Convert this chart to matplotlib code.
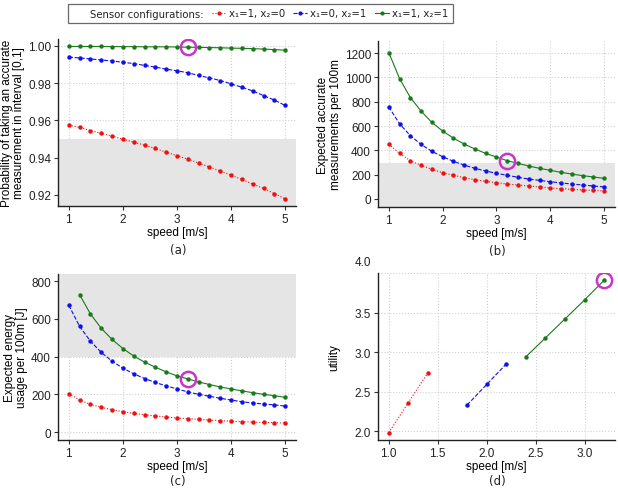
import numpy as np
import matplotlib
matplotlib.use("Agg")
import matplotlib.pyplot as plt
from matplotlib.patches import Rectangle
from matplotlib.lines import Line2D
import matplotlib.transforms as mtransforms

plt.rcParams['font.family'] = ['Liberation Sans', 'DejaVu Sans']

speed = np.round(np.arange(1.0, 5.01, 0.2), 1)

# (a) probability of accurate measurement
prob_red = [0.9574, 0.9563, 0.9545, 0.9530, 0.9516, 0.9498, 0.9483, 0.9467, 0.9449, 0.9429, 0.9411,
            0.9391, 0.9371, 0.9350, 0.9328, 0.9305, 0.9283, 0.9258, 0.9234, 0.9207, 0.9178]
prob_blue = [0.9940, 0.9935, 0.9930, 0.9924, 0.9919, 0.9912, 0.9905, 0.9895, 0.9886, 0.9875, 0.9866,
             0.9856, 0.9841, 0.9828, 0.9814, 0.9796, 0.9778, 0.9758, 0.9733, 0.9709, 0.9680]
prob_green = [0.9997, 0.9997, 0.9997, 0.9997, 0.9996, 0.9996, 0.9996, 0.9995, 0.9995, 0.9995, 0.9994,
              0.9993, 0.9992, 0.9991, 0.9990, 0.9988, 0.9987, 0.9985, 0.9983, 0.9980, 0.9977]

# (b) expected accurate measurements per 100m
meas_red = [452, 375, 315, 277, 244, 216, 195, 175, 159, 145, 134,
            123, 115, 107, 99, 90, 85, 79, 74, 71, 66]
meas_blue = [758, 619, 521, 449, 392, 348, 310, 279, 252, 230, 211,
             195, 178, 164, 153, 142, 132, 123, 115, 107, 99]
meas_green = [1205, 991, 835, 723, 630, 559, 501, 452, 411, 375, 345,
              315, 293, 271, 252, 236, 219, 205, 192, 181, 170]

# (c) expected energy usage per 100m [J]
energy_red = [204, 170, 147, 131, 119, 108, 99, 92, 85, 80, 74,
              71, 67, 64, 60, 58, 55, 53, 51, 50, 48]
energy_blue = [672, 560, 482, 422, 376, 339, 309, 284, 263, 245, 229,
               213, 200, 190, 179, 170, 161, 154, 149, 144, 138]
speed_c_green = speed[1:]
energy_green = [728, 626, 550, 491, 443, 403, 371, 344, 319, 298,
                282, 266, 252, 239, 229, 218, 209, 200, 193, 184]

# (d) utility
util_speed_red = [1.0, 1.2, 1.4]
util_red = [1.98, 2.36, 2.74]
util_speed_blue = [1.8, 2.0, 2.2]
util_blue = [2.33, 2.59, 2.85]
util_speed_green = [2.4, 2.6, 2.8, 3.0, 3.2]
util_green = [2.94, 3.18, 3.42, 3.66, 3.91]

# highlighted optimum
best_speed = 3.2

RED, BLUE, GREEN = '#f01010', '#1010e8', '#1a7a1a'
MAG = '#cc33cc'
GREY = '#e5e5e5'

W, H = 618, 489
fig = plt.figure(figsize=(W / 100, H / 100), dpi=100)


def make_ax(l, t, r, b):
    return fig.add_axes([l / W, 1 - b / H, (r - l) / W, (b - t) / H])


def style(ax, xlim, ylim, xticks, yticks, ylabel, yfmt=None, xfmt=None):
    ax.set_xlim(*xlim)
    ax.set_ylim(*ylim)
    ax.set_xticks(xticks)
    ax.set_yticks(yticks)
    if yfmt:
        ax.set_yticklabels([yfmt.format(v) for v in yticks])
    if xfmt:
        ax.set_xticklabels([xfmt.format(v) for v in xticks])
    for s in ['top', 'right']:
        ax.spines[s].set_visible(False)
    for s in ['left', 'bottom']:
        ax.spines[s].set_linewidth(1.0)
        ax.spines[s].set_color('#222222')
    ax.tick_params(labelsize=8.5, colors='#333333', length=3, width=0.8, pad=2)
    ax.tick_params(labelcolor='#222222')
    ax.grid(True, color='#d0d0d0', linestyle=':', linewidth=0.8)
    ax.set_axisbelow(True)
    ax.set_xlabel('speed [m/s]', fontsize=8.5, labelpad=1)
    ax.set_ylabel(ylabel, fontsize=8.5, labelpad=2, linespacing=1.05)


def series(ax, x, y, color, ls):
    ax.plot(x, y, color=color, linestyle=ls, linewidth=0.8, marker='o',
            markersize=3.2, markeredgewidth=0, zorder=3)


def ring(ax, x, y):
    ax.plot([x], [y], marker='o', markersize=11, markerfacecolor='none',
            markeredgecolor=MAG, markeredgewidth=1.8, zorder=4)


# (a)
axa = make_ax(58, 40, 296, 207)
style(axa, (0.8, 5.2), (0.914, 1.0037), [1, 2, 3, 4, 5], [0.92, 0.94, 0.96, 0.98, 1.00],
      'Probability of taking an accurate\nmeasurement in interval [0,1]', yfmt='{:.2f}')
axa.add_patch(Rectangle((0.8, 0.914), 4.4, 0.95 - 0.914, color=GREY, zorder=1, lw=0))
series(axa, speed, prob_red, RED, ':')
series(axa, speed, prob_blue, BLUE, '--')
series(axa, speed, prob_green, GREEN, '-')
ring(axa, best_speed, prob_green[list(speed).index(best_speed)])

# (b)
axb = make_ax(378, 42, 615, 208)
style(axb, (0.8, 5.2), (-66, 1300), [1, 2, 3, 4, 5], [0, 200, 400, 600, 800, 1000, 1200],
      'Expected accurate\nmeasurements per 100m')
axb.add_patch(Rectangle((0.8, -66), 4.4, 300 + 66, color=GREY, zorder=1, lw=0))
series(axb, speed, meas_red, RED, ':')
series(axb, speed, meas_blue, BLUE, '--')
series(axb, speed, meas_green, GREEN, '-')
ring(axb, best_speed, meas_green[list(speed).index(best_speed)])

# (c)
axc = make_ax(58, 275, 296, 441)
style(axc, (0.8, 5.2), (-42, 838), [1, 2, 3, 4, 5], [0, 200, 400, 600, 800],
      'Expected energy\nusage per 100m [J]')
axc.add_patch(Rectangle((0.8, 400), 4.4, 438, color=GREY, zorder=1, lw=0))
series(axc, speed, energy_red, RED, ':')
series(axc, speed, energy_blue, BLUE, '--')
series(axc, speed_c_green, energy_green, GREEN, '-')
ring(axc, best_speed, energy_green[list(speed_c_green).index(best_speed)])

# (d)
axd = make_ax(378, 274, 615, 441)
style(axd, (0.89, 3.31), (1.887, 4.0), [1.0, 1.5, 2.0, 2.5, 3.0], [2.0, 2.5, 3.0, 3.5, 4.0],
      'utility', yfmt='{:.1f}', xfmt='{:.1f}')
series(axd, util_speed_red, util_red, RED, ':')
series(axd, util_speed_blue, util_blue, BLUE, '--')
series(axd, util_speed_green, util_green, GREEN, '-')
ring(axd, best_speed, util_green[-1])
axd.yaxis.labelpad = 10
# top tick label sits a little above the panel in the original
lbl = axd.get_yticklabels()[-1]
lbl.set_transform(lbl.get_transform() + mtransforms.ScaledTranslation(0, 12 / 100, fig.dpi_scale_trans))
axd.yaxis.get_major_ticks()[-1].tick1line.set_visible(False)

# panel captions
for x, y, s in [(178, 251, '(a)'), (497, 252, '(b)'), (178, 482, '(c)'), (497, 482, '(d)')]:
    fig.text(x / W, 1 - y / H, s, ha='center', va='center', fontsize=8.5,
             family=['DejaVu Sans'], color='#222222')

# legend on top
mk = dict(marker='o', markersize=3.0, mew=0, lw=0.8)
handles = [Line2D([], [], color='none', label='Sensor configurations:'),
           Line2D([], [], color=RED, ls=':', label='x\u2081=1, x\u2082=0', **mk),
           Line2D([], [], color=BLUE, ls='--', label='x\u2081=0, x\u2082=1', **mk),
           Line2D([], [], color=GREEN, ls='-', label='x\u2081=1, x\u2082=1', **mk)]
leg = fig.legend(handles=handles, loc='center', bbox_to_anchor=(260.5 / W, 1 - 14.5 / H),
                 ncol=4, frameon=True, fancybox=False, edgecolor='#444444',
                 handlelength=1.4, handletextpad=0.3, columnspacing=0.8,
                 borderpad=0.45, prop={'family': ['DejaVu Sans'], 'size': 7.3})
leg.get_frame().set_linewidth(0.9)
leg.legend_handles[0].set_visible(False)
for t in leg.get_texts():
    t.set_color('#222222')

fig.savefig('out.png', dpi=100)
